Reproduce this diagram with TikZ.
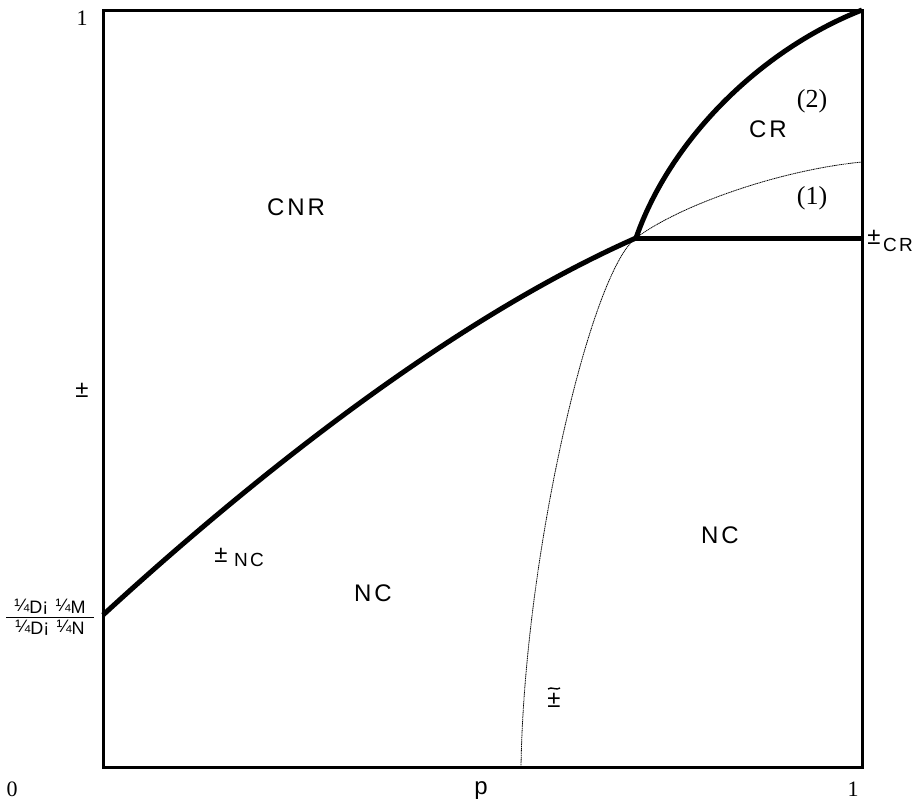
\documentclass[tikz,border=0pt]{standalone}
\usepackage{fontspec}
\setmainfont{Liberation Serif}
\newfontfamily\lsans[LetterSpace=12]{Liberation Sans}
\newfontfamily\psans{Liberation Sans}
\begin{document}
\begin{tikzpicture}[x=1pt,y=-1pt,
  frameline/.style={line width=3pt},
  bigcurve/.style={line width=5pt},
  thincurve/.style={line width=0.8pt, dash pattern=on 1.2pt off 0.6pt},
  lab/.style={inner sep=0pt, font=\lsans\fontsize{24}{28}\selectfont},
  sub/.style={inner sep=0pt, font=\lsans\fontsize{19}{21}\selectfont},
  pm/.style={inner sep=0pt, font=\psans\fontsize{24}{28}\selectfont},
  num/.style={inner sep=0pt, font=\fontsize{22}{26}\selectfont},
  paren/.style={inner sep=0pt, font=\fontsize{26}{30}\selectfont},
  frac/.style={inner sep=0pt, font=\lsans\fontsize{18}{20}\selectfont},
]
\useasboundingbox (0,0) rectangle (917,811);
% frame
\coordinate (BL) at (103,767);
\coordinate (TR) at (862,10);
\draw[frameline] (BL) rectangle (TR);
% key points
\coordinate (L) at (103,615);
\coordinate (X) at (636,238);
\coordinate (R) at (862,238);
\coordinate (B) at (521,767);
\coordinate (E) at (862,162);
% thin curve
\draw[thincurve] (B) .. controls (524,560) and (590,272) .. (X)
                      .. controls (680,205) and (780,170) .. (E);
% thick curves
\draw[bigcurve] (L) .. controls (250,480) and (450,320) .. (X);
\draw[bigcurve] (X) .. controls (670,140) and (760,50) .. (TR);
\draw[bigcurve] (X) -- (R);
% axis labels
\node[num] (one1) at (82,18) {1};
\node[num] (zero) at (12,789) {0};
\node[num] (one2) at (853,789) {1};
\node[lab] (p) at (481,791) {p};
\node[pm] (dl) at (82,390) {±};
% fraction
\node[frac] (fn) at (50,607) {¼\raisebox{-2pt}{D}¡ ¼\raisebox{-2pt}{M}};
\node[frac] (fd) at (50,628) {¼\raisebox{-2pt}{D}¡ ¼\raisebox{-2pt}{N}};
\coordinate (f1) at (6,617);
\coordinate (f2) at (94,617);
\draw[line width=1pt] (f1) -- (f2);
% region labels
\node[lab] (cnr) at (296,207) {CNR};
\node[lab] (cr) at (768,129) {CR};
\node[paren] (l2) at (812,101) {(2)};
\node[paren] (l1) at (812,198) {(1)};
\node[lab] (nc1) at (373,593) {NC};
\node[lab] (nc2) at (720,535) {NC};
% delta labels
\node[pm] (dnc) at (221,555) {±};
\node[sub] (dncs) at (249,560) {NC};
\node[pm] (dcr) at (874,237) {±};
\node[sub] (dcrs) at (898,245) {CR};
\node[pm] (dt) at (554,700) {±};
\coordinate (t1) at (548,689);
\coordinate (t2) at (560,688);
\draw[line width=1.4pt] (t1) .. controls (551,686) and (557,691) .. (t2);
\end{tikzpicture}
\end{document}
